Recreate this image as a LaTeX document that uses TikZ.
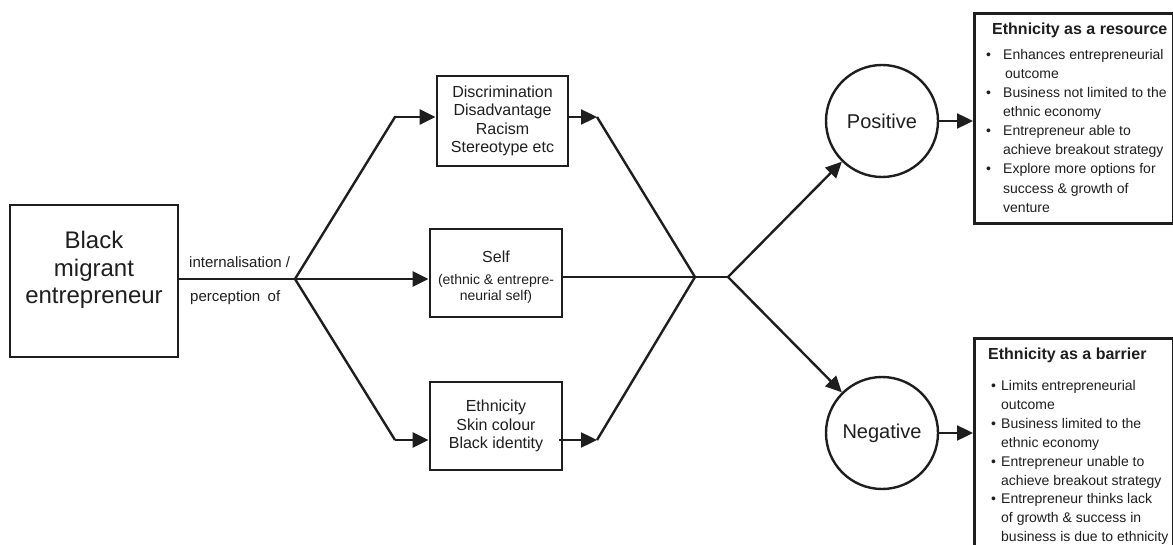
\documentclass[tikz,border=0pt]{standalone}
\usepackage{fontspec}
\setmainfont{Liberation Sans}
\usetikzlibrary{arrows.meta}
\definecolor{ink}{HTML}{1E1E1E}
\begin{document}
\begin{tikzpicture}[x=1pt,y=-1pt,
  every node/.style={text=ink},
  box/.style={draw=ink, line width=2.8pt, inner sep=0pt, align=center},
  conn/.style={draw=ink, line width=2.4pt},
  arr/.style={conn, -{Triangle[length=16pt,width=15pt]}},
  circ/.style={draw=ink, circle, line width=2.4pt, minimum size=112pt, inner sep=0pt,
               font=\fontsize{20}{24}\selectfont},
  midtext/.style={font=\fontsize{16}{18.3}\selectfont},
  small/.style={font=\fontsize{15}{18}\selectfont},
  listtext/.style={font=\fontsize{14}{19.1}\selectfont, align=left, inner sep=0pt, anchor=north west},
  title/.style={font=\fontsize{16}{18}\selectfont\bfseries, inner sep=0pt, anchor=west}
]
\useasboundingbox (0,0) rectangle (1173,545);

% Source box
\node[box, minimum width=168pt, minimum height=152pt] (bme) at (94,281) {};
\node[font=\fontsize{24}{27.5}\selectfont, align=center] (bmetext) at (94,270)
  {Black\\migrant\\entrepreneur};

% Perception labels
\node[small, anchor=west, inner sep=0pt] (lab1) at (189,262) {internalisation /};
\node[small, anchor=west, inner sep=0pt] (lab2) at (190,298) {perception\enspace of};

% Three perceived elements
\node[box, midtext, minimum width=131pt, minimum height=90pt] (disc) at (502.5,121)
  {Discrimination\\Disadvantage\\Racism\\Stereotype etc};
\node[box, minimum width=132pt, minimum height=88pt] (self) at (496,273) {};
\node[midtext] (selftitle) at (496,257) {Self};
\node[font=\fontsize{14}{16}\selectfont, align=center] (selfnote) at (496,289)
  {(ethnic \& entrepre-\\neurial self)};
\node[box, midtext, minimum width=132pt, minimum height=88pt] (eth) at (496,426)
  {Ethnicity\\Skin colour\\Black identity};

% Branching points
\coordinate (split) at (295,279);
\coordinate (upel) at (395,117);
\coordinate (dnel) at (395,440);
\coordinate (dout) at (597,117);
\coordinate (eout) at (597,440);
\coordinate (merge) at (695,277);
\coordinate (fork) at (728,277);

\draw[conn] (bme.east |- split) -- (split);
\draw[conn, line join=miter] (split) -- (upel) -- ([xshift=-1pt]upel);
\draw[arr] (upel) -- (disc.west |- upel);
\draw[arr] (split) -- (self.west |- split);
\draw[conn] (split) -- (dnel);
\draw[arr] (dnel) -- (eth.west |- dnel);

\draw[arr] (disc.east |- dout) -- (dout);
\draw[conn] (dout) -- (merge);
\draw[arr] ([xshift=-4pt]eth.east |- eout) -- (eout);
\draw[conn] (eout) -- (merge);
\draw[conn] (self.east |- merge) -- (merge) -- (fork);

% Outcomes
\node[circ] (pos) at (882,121) {Positive};
\node[circ] (neg) at (882,433) {Negative};
\draw[arr] (fork) -- (pos);
\draw[arr] (fork) -- (neg);

% Ethnicity as a resource
\node[box, anchor=north west, minimum width=199pt, minimum height=210pt] (res) at (973,12) {};
\node[title] (restitle) at (992,30) {Ethnicity as a resource};
\node[listtext] (reslist) at (986,49)
  {\makebox[17pt][l]{\textbullet}Enhances entrepreneurial\\
   \hspace*{19pt}outcome\\
   \makebox[17pt][l]{\textbullet}Business not limited to the\\
   \hspace*{17pt}ethnic economy\\
   \makebox[17pt][l]{\textbullet}Entrepreneur able to\\
   \hspace*{17pt}achieve breakout strategy\\
   \makebox[17pt][l]{\textbullet}Explore more options for\\
   \hspace*{17pt}success \& growth of\\
   \hspace*{17pt}venture};

% Ethnicity as a barrier
\node[box, anchor=north west, minimum width=199pt, minimum height=215pt] (bar) at (973,337) {};
\node[title] (bartitle) at (988,355) {Ethnicity as a barrier};
\node[listtext, font=\fontsize{14}{18.85}\selectfont] (barlist) at (991,380.5)
  {\makebox[10pt][l]{\textbullet}Limits entrepreneurial\\
   \hspace*{10pt}outcome\\
   \makebox[10pt][l]{\textbullet}Business limited to the\\
   \hspace*{10pt}ethnic economy\\
   \makebox[10pt][l]{\textbullet}Entrepreneur unable to\\
   \hspace*{10pt}achieve breakout strategy\\
   \makebox[10pt][l]{\textbullet}Entrepreneur thinks lack\\
   \hspace*{10pt}of growth \& success in\\
   \hspace*{10pt}business is due to ethnicity};

\draw[arr] (pos.east) -- (res.west |- pos);
\draw[arr] (neg.east) -- (bar.west |- neg);
\end{tikzpicture}
\end{document}
